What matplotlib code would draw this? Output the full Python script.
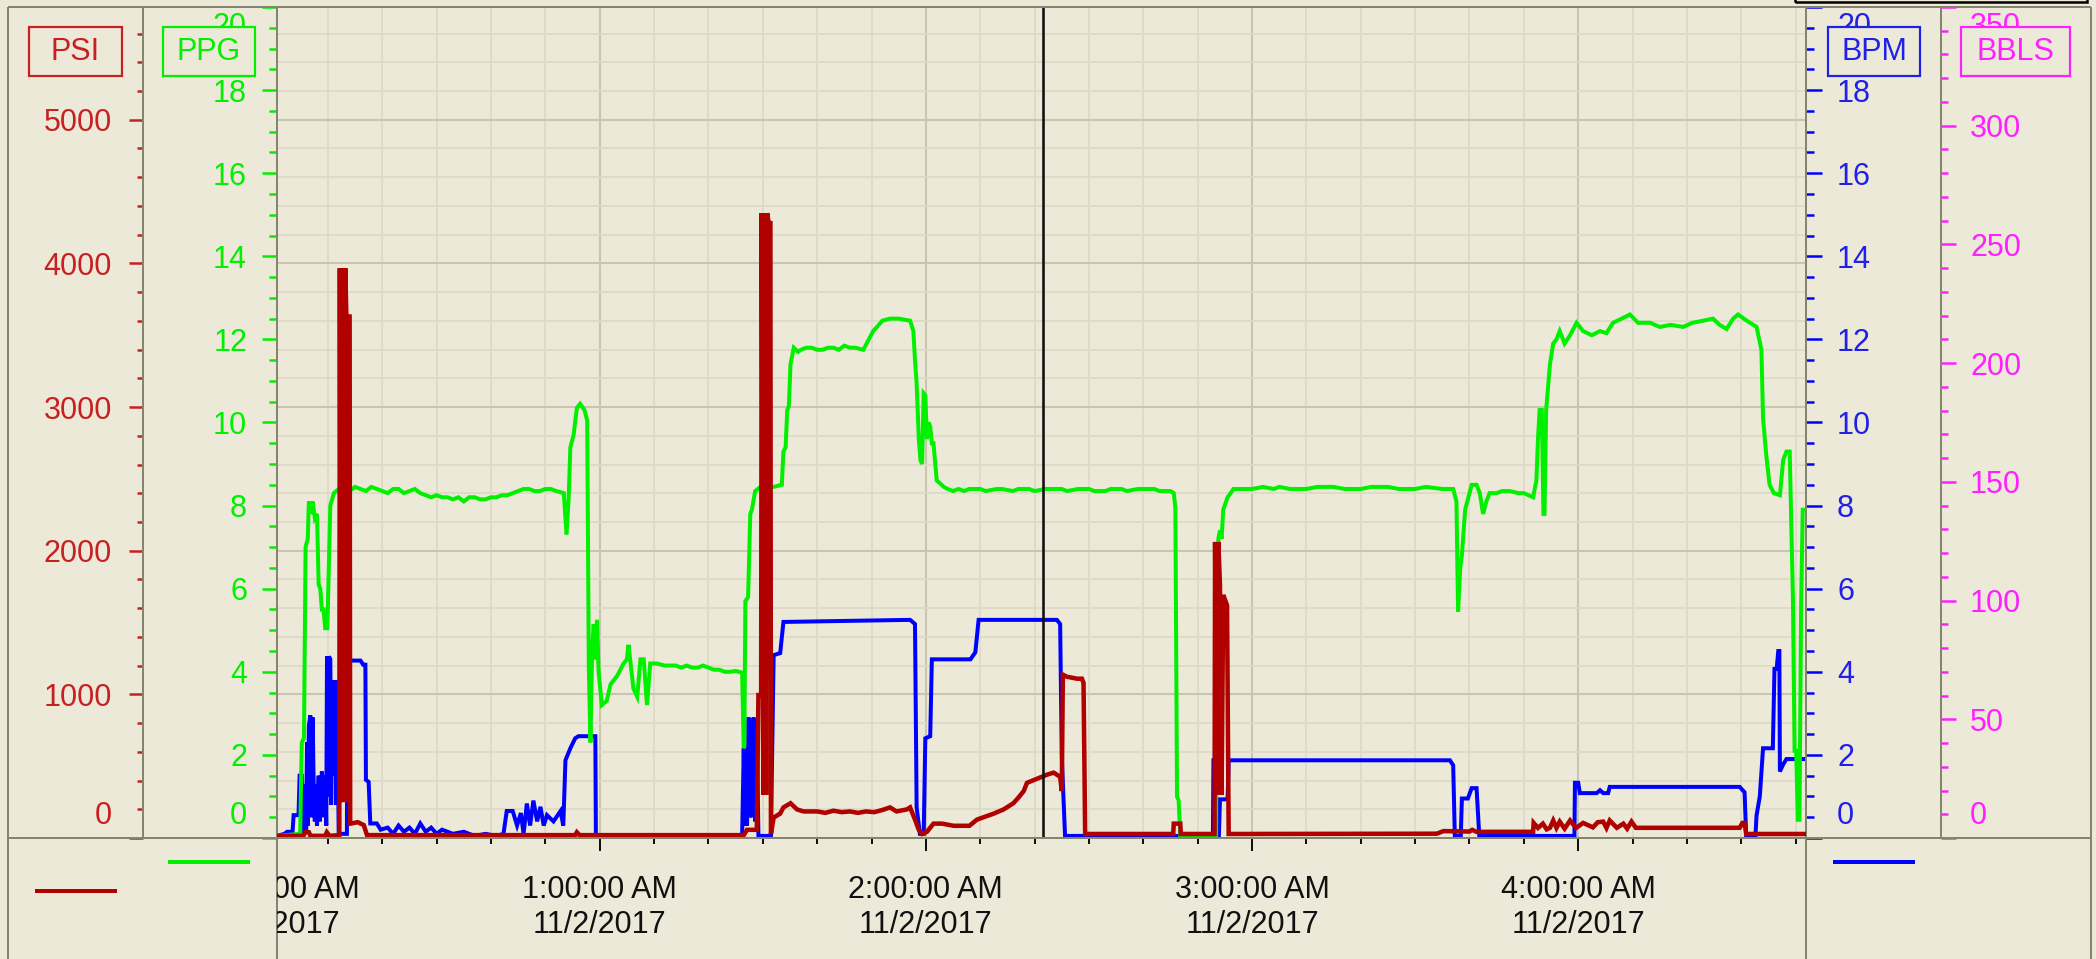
import matplotlib
matplotlib.use('Agg')
import matplotlib.pyplot as plt
from matplotlib.ticker import MultipleLocator, FixedLocator, FuncFormatter
from matplotlib.patches import Rectangle
from matplotlib.lines import Line2D
from matplotlib.transforms import Bbox, TransformedBbox, blended_transform_factory

plt.rcParams['font.family'] = ['Liberation Sans', 'DejaVu Sans']

# ---------------- data (time in minutes after 12:00:00 AM, 11/2/2017) ----------------
date_label = "11/2/2017"
hour_ticks = [0, 60, 120, 180, 240]
x_start, x_end = 0.64, 281.9
cursor_time = 141.5

ppg_data = [
    (0.6, 0.05), (4.9, 0.1), (5.2, 2.3), (5.6, 2.4), (5.9, 7.0), (6.3, 7.2), (6.5, 8.1), (6.9, 7.8),
    (7.2, 8.1), (7.6, 7.7), (8.0, 7.8), (8.3, 6.1), (8.6, 6.0), (8.9, 5.5), (9.2, 5.5), (9.5, 5.05),
    (9.9, 5.05), (10.15, 6.4), (10.45, 8.0), (11.1, 8.3), (12.0, 8.4), (13, 8.4), (14, 8.35), (15, 8.45),
    (16, 8.4), (17, 8.35), (18, 8.45), (19, 8.4), (20, 8.35), (21, 8.3), (22, 8.4), (23, 8.4),
    (24, 8.3), (25, 8.35), (26, 8.4), (27, 8.3), (28, 8.25), (29, 8.2), (30, 8.25), (31, 8.2),
    (32, 8.2), (33, 8.15), (34, 8.2), (35, 8.1), (36, 8.2), (37, 8.2), (38, 8.15), (39, 8.15),
    (40, 8.2), (41, 8.2), (42, 8.25), (43, 8.25), (44, 8.3), (45, 8.35), (46, 8.4), (47, 8.4),
    (48, 8.35), (49, 8.35), (50, 8.4), (51, 8.4), (52, 8.35), (53.4, 8.3), (53.9, 7.3), (54.3, 8.2),
    (54.6, 9.4), (55.2, 9.7), (55.8, 10.35), (56.4, 10.45), (57.2, 10.3), (57.7, 10.05), (58.0, 4.1),
    (58.3, 2.3), (58.6, 4.5), (58.9, 5.15), (59.2, 4.3), (59.5, 5.25), (59.8, 4.0), (60.4, 3.2),
    (61.3, 3.3), (62.0, 3.7), (63.2, 3.9), (64.4, 4.2), (65.0, 4.3), (65.3, 4.65), (66.2, 3.6),
    (66.9, 3.4), (67.5, 4.3), (68.1, 4.3), (68.7, 3.2), (69.3, 4.2), (70.5, 4.2), (72, 4.15),
    (74, 4.15), (75, 4.1), (76, 4.15), (77, 4.1), (78, 4.1), (79, 4.15), (80, 4.1), (81, 4.05),
    (82, 4.05), (83, 4.0), (84, 4.0), (85, 4.02), (86.2, 3.98), (86.5, 2.16), (86.6, 2.2), (86.8, 5.7),
    (87.3, 5.8), (87.7, 7.8), (88.0, 7.9), (88.6, 8.35), (89.6, 8.45), (92.0, 8.45), (93.5, 8.5),
    (93.8, 9.3), (94.2, 9.4), (94.5, 10.3), (94.8, 10.4), (95.1, 11.4), (95.7, 11.8), (96.5, 11.7),
    (97, 11.75), (98, 11.8), (99, 11.8), (100, 11.75), (101, 11.75), (102, 11.8), (103, 11.8),
    (104, 11.75), (105, 11.85), (106, 11.8), (107, 11.8), (108.5, 11.75), (109.5, 12.0), (110.3, 12.2),
    (111, 12.3), (112, 12.45), (113.4, 12.5), (115, 12.5), (117.1, 12.45), (117.7, 12.2),
    (118.0, 11.5), (118.3, 10.95), (118.7, 9.6), (119.0, 9.1), (119.3, 9.0), (119.6, 10.7),
    (119.9, 10.65), (120.2, 9.6), (120.5, 10.0), (120.8, 9.9), (121.1, 9.5), (121.4, 9.5),
    (122.0, 8.6), (122.5, 8.55), (123.3, 8.45), (124, 8.4), (125, 8.35), (126, 8.4), (127, 8.35),
    (128, 8.4), (130, 8.4), (131, 8.35), (133, 8.4), (134, 8.4), (136, 8.35), (137, 8.4), (139, 8.4),
    (140, 8.35), (142, 8.4), (143, 8.4), (145, 8.4), (146, 8.35), (148, 8.4), (150, 8.4), (151, 8.35),
    (153, 8.35), (154, 8.4), (156, 8.4), (157, 8.35), (159, 8.4), (160, 8.4), (162, 8.4), (163, 8.35),
    (165.0, 8.35), (165.6, 8.3), (165.9, 7.95), (166.2, 1.0), (166.5, 0.9), (166.8, 0.05),
    (173.4, 0.05), (173.5, 5.45), (173.8, 7.2), (174.1, 7.4), (174.4, 7.2), (174.7, 7.9),
    (175.5, 8.2), (176.6, 8.4), (178, 8.4), (180, 8.4), (182, 8.45), (184, 8.4), (185, 8.45),
    (187, 8.4), (190, 8.4), (192, 8.45), (195, 8.45), (197, 8.4), (200, 8.4), (202, 8.45),
    (205, 8.45), (207, 8.4), (210, 8.4), (212, 8.45), (215, 8.4), (217.0, 8.4), (217.6, 8.1),
    (217.9, 5.45), (218.3, 6.5), (218.6, 6.8), (219.2, 7.9), (220.4, 8.5), (221.3, 8.5), (221.9, 8.3),
    (222.5, 7.8), (223.1, 8.1), (223.7, 8.3), (225, 8.3), (226, 8.35), (227.4, 8.35), (229, 8.3),
    (230, 8.3), (231.7, 8.2), (232.3, 8.6), (232.6, 9.6), (232.9, 10.3), (233.3, 10.3), (233.6, 7.8),
    (233.8, 7.8), (234.1, 10.3), (234.8, 11.4), (235.4, 11.9), (236.0, 12.0), (236.6, 12.2),
    (237.5, 11.9), (238.5, 12.1), (239.7, 12.4), (240.9, 12.2), (242.5, 12.1), (244.0, 12.2),
    (245.2, 12.15), (246.4, 12.4), (248, 12.5), (249.5, 12.6), (251, 12.4), (253.2, 12.4),
    (255, 12.3), (257, 12.35), (259.3, 12.3), (261, 12.4), (263, 12.45), (264.8, 12.5), (266, 12.35),
    (267.3, 12.25), (268.5, 12.5), (269.4, 12.6), (271, 12.45), (272.8, 12.3), (273.7, 11.75),
    (274.0, 10.1), (274.6, 9.2), (275.2, 8.5), (276, 8.3), (277.1, 8.25), (277.7, 9.1), (278.3, 9.3),
    (278.9, 9.3), (279.5, 5.75), (279.8, 2.1), (280.1, 2.1), (280.4, 0.44), (280.7, 0.44),
    (281.0, 5.55), (281.3, 7.9), (281.9, 7.9),
]

bpm_data = [
    (0.6, 0.05), (2.0, 0.1), (2.5, 0.15), (3.5, 0.15), (3.7, 0.55), (4.6, 0.55), (4.8, 1.5), (5.2, 1.5),
    (5.4, 0.1), (5.7, 1.3), (6.0, 0.2), (6.16, 2.3), (6.3, 0.3), (6.5, 2.7), (6.77, 2.95), (7.0, 0.5),
    (7.2, 2.9), (7.39, 1.2), (7.6, 0.4), (7.8, 1.3), (8.0, 0.3), (8.3, 1.5), (8.5, 0.4), (8.9, 1.6),
    (9.2, 0.5), (9.5, 1.5), (9.7, 0.3), (9.84, 4.37), (10.0, 1.0), (10.2, 4.37), (10.45, 4.3),
    (10.6, 0.8), (10.76, 3.8), (11.0, 1.5), (11.3, 3.8), (11.5, 0.8), (11.68, 3.8), (11.99, 0.1),
    (13.5, 0.1), (13.6, 4.27), (16.0, 4.27), (16.5, 4.17), (16.9, 4.17), (17.0, 1.4), (17.5, 1.35),
    (17.8, 0.35), (19.0, 0.35), (19.7, 0.2), (21, 0.25), (22, 0.1), (23, 0.3), (24, 0.15), (25, 0.25),
    (26, 0.1), (27, 0.35), (28, 0.15), (29, 0.25), (30, 0.1), (31, 0.2), (33, 0.1), (35, 0.15),
    (37, 0.05), (39, 0.1), (41, 0.05), (42.3, 0.1), (42.9, 0.65), (44.0, 0.65), (44.8, 0.3),
    (45.5, 0.6), (46.0, 0.1), (46.6, 0.83), (47.2, 0.3), (47.8, 0.9), (48.5, 0.4), (49.1, 0.75),
    (49.7, 0.3), (50.3, 0.55), (51.5, 0.4), (52.8, 0.65), (53.3, 0.3), (53.7, 1.87), (54.6, 2.16),
    (55.5, 2.4), (56.1, 2.45), (59.2, 2.45), (59.3, 0.05), (86.2, 0.05), (86.5, 2.16), (86.7, 0.3),
    (86.9, 2.2), (87.1, 0.3), (87.4, 2.9), (87.6, 0.5), (87.8, 2.8), (88.0, 0.5), (88.3, 2.9),
    (88.6, 0.4), (88.9, 2.5), (89.2, 0.05), (91.5, 0.05), (91.6, 1.0), (92.0, 4.4), (93.2, 4.45),
    (93.8, 5.2), (117.1, 5.25), (118.0, 5.15), (118.3, 0.74), (118.9, 0.1), (119.6, 0.1),
    (119.9, 2.4), (120.8, 2.45), (121.1, 4.3), (128.2, 4.3), (129.1, 4.47), (129.7, 5.25),
    (144.1, 5.25), (144.7, 5.15), (145.0, 1.96), (145.3, 1.03), (145.6, 0.05), (172.8, 0.05),
    (172.9, 1.87), (173.3, 1.87), (173.4, 0.05), (173.9, 0.05), (174.1, 0.93), (175.5, 0.93),
    (175.7, 1.87), (216.4, 1.87), (217.0, 1.75), (217.3, 0.05), (218.4, 0.05), (218.6, 0.95),
    (219.7, 0.95), (220.4, 1.2), (221.3, 1.2), (221.8, 0.05), (239.3, 0.05), (239.4, 1.33),
    (240.0, 1.33), (240.3, 1.08), (243.4, 1.08), (244.0, 1.15), (244.6, 1.08), (245.5, 1.08),
    (245.8, 1.23), (269.7, 1.23), (270.6, 1.1), (270.9, 0.05), (272.6, 0.05), (272.8, 0.54),
    (273.4, 1.0), (274.0, 2.16), (275.8, 2.16), (276.1, 4.07), (276.5, 4.07), (276.8, 4.5),
    (277.0, 4.5), (277.1, 1.6), (277.7, 1.77), (278.3, 1.9), (281.9, 1.9),
]

psi_data = [
    (0.6, 15), (5.5, 15), (5.8, 40), (6.5, 40), (6.8, 15), (9.5, 15), (9.8, 40), (10.3, 15),
    (12.1, 20), (12.2, 3966), (12.4, 250), (12.5, 3966), (12.7, 300), (12.8, 3950), (13.0, 250),
    (13.2, 3966), (13.4, 3630), (13.6, 250), (13.8, 3630), (14.0, 3630), (14.1, 100), (15.5, 110),
    (16.6, 90), (17.2, 20), (55.5, 20), (55.8, 40), (56.3, 20), (86.5, 20), (87.1, 57), (88.9, 57),
    (89.2, 995), (89.7, 995), (89.8, 4350), (90.1, 300), (90.3, 4350), (90.6, 300), (90.8, 4350),
    (91.1, 4280), (91.4, 4280), (91.5, 28), (92.0, 142), (93.2, 170), (93.8, 213), (95.1, 242),
    (96.3, 199), (97.5, 185), (100, 185), (101.5, 175), (103, 190), (104.5, 180), (106, 185),
    (107.5, 175), (109, 185), (110.5, 180), (112, 195), (113.4, 213), (114.6, 185), (116.5, 199),
    (117.1, 213), (118.0, 128), (118.7, 57), (119.3, 28), (120.2, 43), (121.4, 100), (123, 100),
    (125.1, 85), (128, 85), (129.4, 128), (131, 150), (132.5, 170), (134.3, 199), (136.1, 242),
    (137, 280), (138.0, 327), (138.6, 384), (140.4, 412), (142.3, 441), (143.5, 455), (144.7, 426),
    (145.0, 327), (145.2, 1137), (145.9, 1123), (147.8, 1109), (148.7, 1109), (149.0, 1080),
    (149.3, 28), (165.5, 28), (165.6, 100), (166.8, 100), (166.9, 28), (173.1, 28), (173.2, 2061),
    (173.5, 300), (173.8, 2061), (174.1, 1763), (174.4, 300), (174.7, 1692), (175.4, 1620),
    (175.7, 28), (214.0, 30), (215.2, 48), (220.0, 45), (220.5, 57), (221.3, 43), (231.7, 43),
    (231.8, 105), (232.6, 70), (233.5, 100), (234.2, 60), (234.8, 71), (235.4, 122), (236.0, 70),
    (236.6, 114), (237.5, 65), (238.5, 122), (239.6, 70), (240.9, 105), (242.7, 74), (243.6, 110),
    (244.6, 114), (245.2, 70), (245.8, 122), (247.1, 71), (248.3, 100), (249.0, 65), (249.8, 114),
    (250.6, 71), (269.7, 71), (270.2, 105), (270.6, 105), (270.9, 28), (281.9, 28),
]

psi_range = (0, 5785)
ppg_range = (0, 20)
bpm_range = (0, 20)
bbls_range = (0, 350)

# ---------------- styling ----------------
BG = '#ECE9D8'
FRAME = '#85846F'
GRID_MAJ = '#C9C5B1'
GRID_MIN = '#DEDAC7'
C_PSI_LINE = '#B00000'
C_PSI_TXT = '#C82020'
C_PPG = '#00F000'
C_BPM = '#0000FF'
C_BPM_TXT = '#2020E8'
C_BBL = '#FF20FF'
FS = 22

W, H, DPI = 2096, 959, 100
def pt(px):
    return px * 72.0 / DPI

fig = plt.figure(figsize=(W / DPI, H / DPI), dpi=DPI, facecolor=BG)
L, R, T, B = 277, 1806, 7, 838
ax = fig.add_axes([L / W, 1 - B / H, (R - L) / W, (B - T) / H])
ax.set_facecolor(BG)
ax.set_xlim(x_start, x_end)
ax.set_ylim(*psi_range)

ax_bbl = ax.twinx()
ax_bpm = ax.twinx()
ax_ppg = ax.twinx()
ax_red = ax.twinx()

# grid (from PSI and time scales)
ax.yaxis.set_major_locator(MultipleLocator(1000))
ax.yaxis.set_minor_locator(MultipleLocator(200))
ax.xaxis.set_major_locator(FixedLocator(hour_ticks))
ax.xaxis.set_minor_locator(MultipleLocator(10))
ax.grid(True, which='minor', color=GRID_MIN, lw=1.3)
ax.grid(True, which='major', color=GRID_MAJ, lw=1.5)
ax.set_axisbelow(True)

def fmt_time(m, pos=None):
    m = int(round(m))
    h, mi = divmod(m, 60)
    h12 = 12 if h % 12 == 0 else h % 12
    ampm = 'AM' if h < 12 else 'PM'
    return f"{h12}:{mi:02d}:00 {ampm}\n{date_label}"

ax.xaxis.set_major_formatter(FuncFormatter(fmt_time))
XT_LEN, XT_PAD = 13, 24
ax.tick_params(axis='x', which='major', direction='out', length=pt(XT_LEN), width=pt(2),
               color='#111111', labelcolor='#111111', labelsize=FS, pad=pt(XT_PAD))
ax.tick_params(axis='x', which='minor', direction='out', length=pt(6), width=pt(2), color='#111111')

# spines
for a in (ax, ax_bbl, ax_bpm, ax_ppg, ax_red):
    for s in a.spines.values():
        s.set_visible(False)
        s.set_color(FRAME)
        s.set_linewidth(pt(2))
ax.spines['left'].set_visible(True)
ax.spines['left'].set_position(('outward', pt(L - 143)))
ax.spines['bottom'].set_visible(True)
ax.spines['top'].set_visible(True)
ax_ppg.spines['left'].set_visible(True)
ax_bpm.spines['right'].set_visible(True)
ax_bbl.spines['right'].set_visible(True)
ax_bbl.spines['right'].set_position(('outward', pt(1941 - R)))

def blank(ends):
    def f(v, pos=None):
        for e in ends:
            if abs(v - e) < 1e-6:
                return ''
        return f"{v:g}"
    return FuncFormatter(f)

# PSI axis
ax.yaxis.set_major_formatter(blank([0]))
ax.tick_params(axis='y', which='major', direction='out', length=pt(14), width=pt(2.5),
               color=C_PSI_TXT, labelcolor=C_PSI_TXT, labelsize=FS, pad=pt(17))
ax.tick_params(axis='y', which='minor', direction='out', length=pt(6), width=pt(2.5), color=C_PSI_TXT)

# PPG axis (left, inner)
ax_ppg.set_ylim(*ppg_range)
ax_ppg.yaxis.tick_left()
ax_ppg.yaxis.set_major_locator(MultipleLocator(2))
ax_ppg.yaxis.set_minor_locator(MultipleLocator(0.5))
ax_ppg.yaxis.set_major_formatter(blank(list(ppg_range)))
ax_ppg.tick_params(axis='y', which='major', direction='out', length=pt(15), width=pt(2.5),
                   color=C_PPG, labelcolor=C_PPG, labelsize=FS, pad=pt(15))
ax_ppg.tick_params(axis='y', which='minor', direction='out', length=pt(8), width=pt(2.5), color=C_PPG)

# BPM axis (right, inner)
ax_bpm.set_ylim(*bpm_range)
ax_bpm.yaxis.set_major_locator(MultipleLocator(2))
ax_bpm.yaxis.set_minor_locator(MultipleLocator(0.5))
ax_bpm.yaxis.set_major_formatter(blank(list(bpm_range)))
ax_bpm.tick_params(axis='y', which='major', direction='out', length=pt(16), width=pt(2.5),
                   color=C_BPM, labelcolor=C_BPM_TXT, labelsize=FS, pad=pt(15))
ax_bpm.tick_params(axis='y', which='minor', direction='out', length=pt(8), width=pt(2.5), color=C_BPM)

# BBLS axis (right, outer)
ax_bbl.set_ylim(*bbls_range)
ax_bbl.yaxis.set_major_locator(MultipleLocator(50))
ax_bbl.yaxis.set_minor_locator(MultipleLocator(10))
ax_bbl.yaxis.set_major_formatter(blank(list(bbls_range)))
ax_bbl.tick_params(axis='y', which='major', direction='out', length=pt(15), width=pt(2.5),
                   color=C_BBL, labelcolor=C_BBL, labelsize=FS, pad=pt(14))
ax_bbl.tick_params(axis='y', which='minor', direction='out', length=pt(7), width=pt(2.5), color=C_BBL)

# red line axis (on top, no ticks)
ax_red.set_ylim(*psi_range)
ax_red.yaxis.set_visible(False)

# series
ax_bpm.plot([p[0] for p in bpm_data], [p[1] for p in bpm_data], color=C_BPM, lw=pt(4),
            solid_joinstyle='miter')
ax_ppg.plot([p[0] for p in ppg_data], [p[1] for p in ppg_data], color=C_PPG, lw=pt(4),
            solid_joinstyle='miter')
ax_red.plot([p[0] for p in psi_data], [p[1] for p in psi_data], color=C_PSI_LINE, lw=pt(4.5),
            solid_joinstyle='miter')
ax_red.axvline(cursor_time, color='#111111', lw=pt(2.6))

# end labels shifted inside the axis range
def end_label(a, xfrac, yval, txt, dx, dy, color, ha):
    a.annotate(txt, xy=(xfrac, yval), xycoords=('axes fraction', 'data'), xytext=(dx, dy),
               textcoords='offset pixels', ha=ha, va='center', color=color, fontsize=FS,
               annotation_clip=False)

end_label(ax, 0, 0, '0', -(L - 143) - 31, 22, C_PSI_TXT, 'right')
end_label(ax, 0, psi_range[1], '6000', -(L - 143) - 31, 22, C_PSI_TXT, 'right')
end_label(ax_ppg, 0, 0, '0', -30, 22, C_PPG, 'right')
end_label(ax_ppg, 0, 20, '20', -30, -20, C_PPG, 'right')
end_label(ax_bpm, 1, 0, '0', 31, 22, C_BPM_TXT, 'left')
end_label(ax_bpm, 1, 20, '20', 31, -20, C_BPM_TXT, 'left')
end_label(ax_bbl, 1, 0, '0', (1941 - R) + 29, 22, C_BBL, 'left')
end_label(ax_bbl, 1, 350, '350', (1941 - R) + 29, -20, C_BBL, 'left')

# first (partially hidden) time label at 12:00:00 AM
tr = blended_transform_factory(ax.transData, fig.transFigure)
t0 = fig.text(hour_ticks[0], 1 - (B + XT_LEN + XT_PAD) / H, fmt_time(hour_ticks[0]), transform=tr,
              ha='center', va='top', fontsize=FS, color='#111111', linespacing=1.2)
t0.set_clip_box(TransformedBbox(Bbox([[L / W, 0], [R / W, 1 - B / H]]), fig.transFigure))
t0.set_clip_on(True)

# frame lines
def fline(x0, y0, x1, y1, color=FRAME, lw=2, z=1):
    fig.add_artist(Line2D([x0 / W, x1 / W], [1 - y0 / H, 1 - y1 / H], transform=fig.transFigure,
                          color=color, lw=pt(lw), zorder=z, solid_capstyle='butt'))

fline(8, 7, 2091, 7)
fline(8, 7, 8, 959)
fline(2091, 7, 2091, 959)
fline(8, 838, 2091, 838)
fline(L, 838, L, 959)
fline(R, 838, R, 959)

# top-right box remnant
fig.add_artist(Rectangle((1795 / W, 1 - 2 / H), 292 / W, 0.05, transform=fig.transFigure,
                         facecolor='none', edgecolor='#000000', lw=pt(2.5), zorder=6))

# legend sample lines
fline(35, 891, 117, 891, color=C_PSI_LINE, lw=4, z=6)
fline(168, 862, 250, 862, color=C_PPG, lw=4, z=6)
fline(1833, 862, 1915, 862, color=C_BPM, lw=4, z=6)

# axis title boxes
boxes = [
    ('PSI', 29, 122, C_PSI_TXT),
    ('PPG', 163, 255, C_PPG),
    ('BPM', 1828, 1920, C_BPM_TXT),
    ('BBLS', 1961, 2070, C_BBL),
]
for txt, x0, x1, col in boxes:
    fig.add_artist(Rectangle((x0 / W, 1 - 76 / H), (x1 - x0) / W, 49 / H, transform=fig.transFigure,
                             facecolor=BG, edgecolor=col, lw=pt(2.2), zorder=7))
    fig.text((x0 + x1) / 2 / W, 1 - 52 / H, txt, ha='center', va='center', color=col,
             fontsize=FS, zorder=8)

fig.savefig('out.png', dpi=DPI, facecolor=BG)
